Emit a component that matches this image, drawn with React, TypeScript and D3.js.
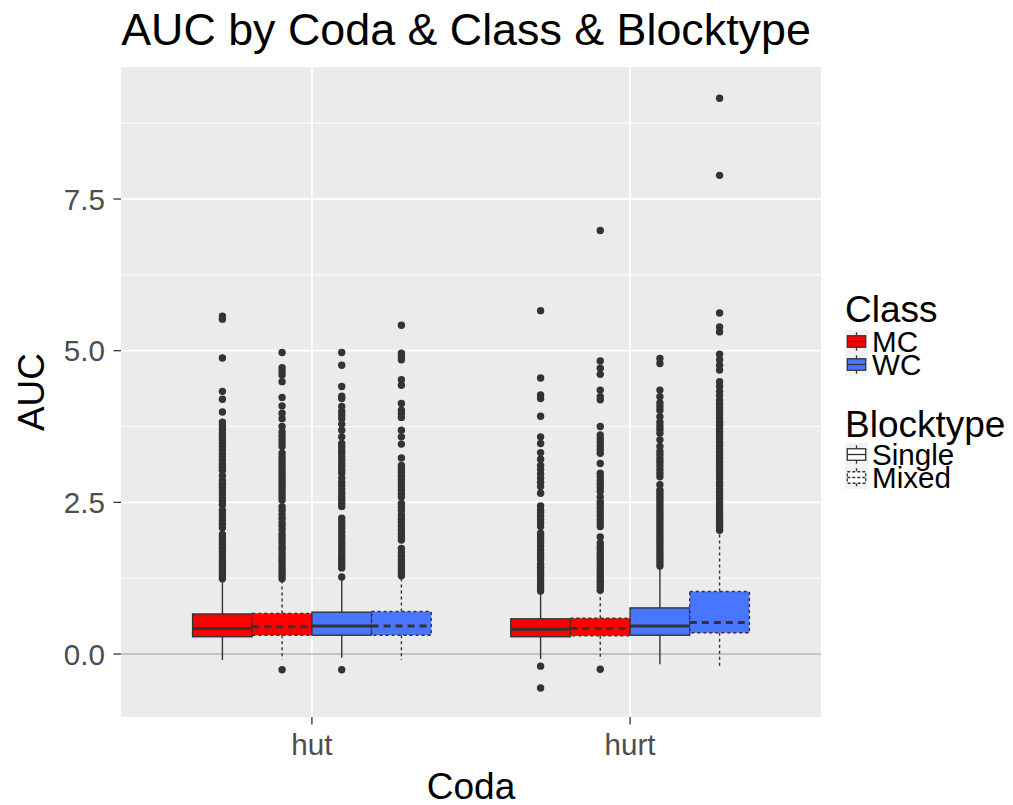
import React from 'react';
import * as d3 from 'd3';

const codas = ['hut', 'hurt'];
const classes = ['MC', 'WC'];
const blocktypes = ['Single', 'Mixed'];
const yTicks = [0, 2.5, 5, 7.5];
const yTickLabels = ['0.0', '2.5', '5.0', '7.5'];
const yMinor = [1.25, 3.75, 6.25, 8.75];

// [lower whisker, q1, median, q3, upper whisker]
const hutMCSingleStats = [-0.1, 0.285, 0.42, 0.66, 1.2];
const hutMCMixedStats = [-0.09, 0.31, 0.45, 0.67, 1.19];
const hutWCSingleStats = [-0.06, 0.31, 0.46, 0.69, 1.22];
const hutWCMixedStats = [-0.1, 0.31, 0.46, 0.7, 1.25];
const hurtMCSingleStats = [-0.08, 0.285, 0.41, 0.58, 1.0];
const hurtMCMixedStats = [-0.1, 0.3, 0.42, 0.59, 1.0];
const hurtWCSingleStats = [-0.17, 0.31, 0.46, 0.76, 1.4];
const hurtWCMixedStats = [-0.22, 0.35, 0.52, 1.03, 2.0];

const hutMCSingleOut = [1.24, 1.29, 1.34, 1.39, 1.44, 1.49, 1.54, 1.6, 1.65, 1.7, 1.75, 1.81, 1.86, 1.92, 1.97, 2.08, 2.14, 2.2, 2.26, 2.31, 2.37, 2.46, 2.52, 2.57, 2.63, 2.69, 2.75, 2.8, 2.86, 2.94, 3.03, 3.08, 3.13, 3.19, 3.25, 3.3, 3.36, 3.42, 3.47, 3.53, 3.58, 3.64, 3.7, 3.76, 3.82, 3.99, 4.2, 4.33, 4.88, 5.52, 5.57];
const hutMCMixedOut = [-0.26, 1.24, 1.29, 1.34, 1.39, 1.44, 1.5, 1.55, 1.6, 1.65, 1.71, 1.76, 1.82, 1.87, 1.93, 1.98, 2.05, 2.11, 2.17, 2.24, 2.3, 2.37, 2.43, 2.54, 2.59, 2.64, 2.69, 2.74, 2.79, 2.84, 2.89, 2.94, 2.99, 3.04, 3.09, 3.14, 3.2, 3.25, 3.31, 3.42, 3.48, 3.54, 3.6, 3.66, 3.75, 3.88, 3.97, 4.09, 4.23, 4.49, 4.6, 4.66, 4.72, 4.97];
const hutWCSingleOut = [-0.26, 1.27, 1.42, 1.47, 1.52, 1.57, 1.62, 1.68, 1.73, 1.79, 1.84, 1.9, 1.95, 2.01, 2.07, 2.12, 2.18, 2.24, 2.43, 2.48, 2.54, 2.59, 2.65, 2.71, 2.77, 2.83, 2.9, 2.98, 3.03, 3.09, 3.14, 3.2, 3.25, 3.31, 3.36, 3.42, 3.47, 3.58, 3.69, 3.79, 3.88, 3.94, 4.0, 4.08, 4.21, 4.25, 4.41, 4.76, 4.97];
const hutWCMixedOut = [1.29, 1.34, 1.39, 1.44, 1.5, 1.55, 1.61, 1.67, 1.74, 1.88, 1.93, 1.99, 2.05, 2.11, 2.17, 2.23, 2.29, 2.36, 2.42, 2.48, 2.59, 2.64, 2.7, 2.76, 2.82, 2.88, 2.94, 3.0, 3.05, 3.11, 3.23, 3.46, 3.58, 3.69, 3.9, 3.96, 4.02, 4.13, 4.43, 4.52, 4.85, 4.9, 4.96, 5.42];
const hurtMCSingleOut = [-0.56, -0.2, 1.04, 1.09, 1.14, 1.19, 1.24, 1.29, 1.33, 1.38, 1.43, 1.48, 1.55, 1.6, 1.66, 1.72, 1.78, 1.84, 1.9, 1.95, 1.99, 2.1, 2.16, 2.22, 2.28, 2.33, 2.37, 2.44, 2.65, 2.76, 2.83, 2.9, 2.97, 3.04, 3.11, 3.21, 3.32, 3.47, 3.58, 3.92, 4.21, 4.27, 4.55, 5.66];
const hurtMCMixedOut = [-0.25, 1.05, 1.1, 1.15, 1.2, 1.25, 1.3, 1.35, 1.4, 1.45, 1.5, 1.56, 1.61, 1.66, 1.72, 1.77, 1.83, 1.93, 2.1, 2.16, 2.22, 2.28, 2.34, 2.4, 2.46, 2.51, 2.59, 2.68, 2.74, 2.8, 2.86, 2.92, 2.98, 3.14, 3.31, 3.37, 3.43, 3.49, 3.55, 3.61, 3.75, 4.19, 4.24, 4.35, 4.61, 4.71, 4.83, 6.98];
const hurtWCSingleOut = [1.45, 1.5, 1.55, 1.6, 1.65, 1.7, 1.75, 1.8, 1.85, 1.9, 1.95, 2.0, 2.05, 2.1, 2.15, 2.2, 2.25, 2.3, 2.35, 2.4, 2.45, 2.5, 2.55, 2.6, 2.65, 2.7, 2.79, 2.92, 2.98, 3.04, 3.1, 3.16, 3.22, 3.28, 3.34, 3.42, 3.53, 3.64, 3.7, 3.76, 3.82, 3.91, 4.02, 4.08, 4.14, 4.24, 4.35, 4.79, 4.87];
const hurtWCMixedOut = [2.04, 2.09, 2.14, 2.19, 2.24, 2.29, 2.34, 2.4, 2.45, 2.5, 2.56, 2.61, 2.67, 2.72, 2.78, 2.83, 2.89, 2.94, 3.0, 3.05, 3.11, 3.16, 3.22, 3.27, 3.33, 3.38, 3.44, 3.49, 3.55, 3.6, 3.66, 3.71, 3.77, 3.82, 3.88, 3.94, 4.0, 4.06, 4.12, 4.18, 4.26, 4.33, 4.41, 4.49, 4.68, 4.76, 4.85, 4.94, 5.31, 5.39, 5.62, 7.89, 9.16];

const classColors = ['#FF0000', '#4876FF'];

const groups = [
  { coda: 'hut', cls: 'MC', block: 'Single', stats: hutMCSingleStats, out: hutMCSingleOut },
  { coda: 'hut', cls: 'MC', block: 'Mixed', stats: hutMCMixedStats, out: hutMCMixedOut },
  { coda: 'hut', cls: 'WC', block: 'Single', stats: hutWCSingleStats, out: hutWCSingleOut },
  { coda: 'hut', cls: 'WC', block: 'Mixed', stats: hutWCMixedStats, out: hutWCMixedOut },
  { coda: 'hurt', cls: 'MC', block: 'Single', stats: hurtMCSingleStats, out: hurtMCSingleOut },
  { coda: 'hurt', cls: 'MC', block: 'Mixed', stats: hurtMCMixedStats, out: hurtMCMixedOut },
  { coda: 'hurt', cls: 'WC', block: 'Single', stats: hurtWCSingleStats, out: hurtWCSingleOut },
  { coda: 'hurt', cls: 'WC', block: 'Mixed', stats: hurtWCMixedStats, out: hurtWCMixedOut },
];

const W = 1013, H = 805;
const PL = 121, PR = 821, PT = 67, PB = 717;
const FONT = '"Liberation Sans", Arial, Helvetica, sans-serif';
const DARK = '#333333';

export default function App() {
  const x = d3.scaleLinear().domain([0.4, 2.6]).range([PL, PR]);
  const y = d3.scaleLinear().domain([-1.038, 9.676]).range([PB, PT]);
  const sub = d3.scaleBand<string>()
    .domain(['MC-Single', 'MC-Mixed', 'WC-Single', 'WC-Mixed'])
    .range([-0.375, 0.375]);
  const color = d3.scaleOrdinal<string, string>().domain(classes).range(classColors);
  const bw = x(sub.bandwidth()) - x(0);

  const boxes = groups.map((g, i) => {
    const ci = codas.indexOf(g.coda) + 1;
    const x0 = x(ci + (sub(`${g.cls}-${g.block}`) as number));
    const xc = x0 + bw / 2;
    const [lw, q1, med, q3, uw] = g.stats;
    const mixed = g.block === 'Mixed';
    const dash = mixed ? '3,3' : undefined;
    return (
      <g key={i}>
        <line x1={xc} x2={xc} y1={y(q3)} y2={y(uw)} stroke={DARK} strokeWidth={1.4} strokeDasharray={dash} />
        <line x1={xc} x2={xc} y1={y(q1)} y2={y(lw)} stroke={DARK} strokeWidth={1.4} strokeDasharray={dash} />
        <rect x={x0} y={y(q3)} width={bw} height={y(q1) - y(q3)} fill={color(g.cls)} stroke={DARK} strokeWidth={1.4} strokeDasharray={dash} />
        <line x1={x0} x2={x0 + bw} y1={y(med)} y2={y(med)} stroke={DARK} strokeWidth={3} strokeDasharray={mixed ? '7,5' : undefined} />
        {g.out.map((v, j) => (
          <circle key={j} cx={xc} cy={y(v)} r={3.7} fill={DARK} />
        ))}
      </g>
    );
  });

  const keySize = 23;
  const legendX = 845;
  const classKeyY = [330, 353];
  const blockKeyY = [443, 466];

  const keyGlyph = (kx: number, ky: number, fill: string, dashed: boolean, k: string) => {
    const s = keySize;
    const dash = dashed ? '3,2' : undefined;
    return (
      <g key={k}>
        <rect x={kx} y={ky} width={s} height={s} fill="#F2F2F2" />
        <line x1={kx + s / 2} x2={kx + s / 2} y1={ky + s * 0.1} y2={ky + s * 0.9} stroke={DARK} strokeWidth={1.3} strokeDasharray={dash} />
        <rect x={kx + s * 0.1} y={ky + s * 0.25} width={s * 0.8} height={s * 0.5} fill={fill} stroke={DARK} strokeWidth={1.3} strokeDasharray={dash} />
        <line x1={kx + s * 0.1} x2={kx + s * 0.9} y1={ky + s / 2} y2={ky + s / 2} stroke={DARK} strokeWidth={1.3} strokeDasharray={dash} />
      </g>
    );
  };

  return (
    <svg width={W} height={H} style={{ position: 'absolute', left: 0, top: 0, display: 'block' }} fontFamily={FONT}>
      <rect x={0} y={0} width={W} height={H} fill="#FFFFFF" />
      <text x={466} y={45} fontSize={44.8} textAnchor="middle" fill="#000">AUC by Coda &amp; Class &amp; Blocktype</text>

      <rect x={PL} y={PT} width={PR - PL} height={PB - PT} fill="#EBEBEB" />
      {yMinor.map((v) => (
        <line key={'mn' + v} x1={PL} x2={PR} y1={y(v)} y2={y(v)} stroke="#FFFFFF" strokeWidth={0.9} />
      ))}
      {yTicks.map((v) => (
        <line key={'mj' + v} x1={PL} x2={PR} y1={y(v)} y2={y(v)} stroke="#FFFFFF" strokeWidth={1.8} />
      ))}
      {codas.map((c, i) => (
        <line key={'vx' + c} x1={x(i + 1)} x2={x(i + 1)} y1={PT} y2={PB} stroke="#FFFFFF" strokeWidth={1.8} />
      ))}
      <line x1={PL} x2={PR} y1={y(0)} y2={y(0)} stroke="#B0B0B0" strokeWidth={1.4} />

      {boxes}

      {yTicks.map((v, i) => (
        <g key={'yt' + v}>
          <line x1={PL - 7.5} x2={PL} y1={y(v)} y2={y(v)} stroke={DARK} strokeWidth={1.3} />
          <text x={PL - 16} y={y(v) + 10.5} fontSize={29.6} textAnchor="end" fill="#4D4D4D">{yTickLabels[i]}</text>
        </g>
      ))}
      {codas.map((c, i) => (
        <g key={'xt' + c}>
          <line x1={x(i + 1)} x2={x(i + 1)} y1={PB} y2={PB + 7.5} stroke={DARK} strokeWidth={1.3} />
          <text x={x(i + 1)} y={755} fontSize={29.6} textAnchor="middle" fill="#4D4D4D">{c}</text>
        </g>
      ))}
      <text x={(PL + PR) / 2} y={799} fontSize={37} textAnchor="middle" fill="#000">Coda</text>
      <text transform={`translate(44,${(PT + PB) / 2}) rotate(-90)`} fontSize={37} textAnchor="middle" fill="#000">AUC</text>

      <text x={legendX} y={322} fontSize={37} fill="#000">Class</text>
      {classes.map((c, i) => (
        <g key={'lc' + c}>
          {keyGlyph(legendX, classKeyY[i], color(c), false, 'kc' + c)}
          <text x={legendX + keySize + 4} y={classKeyY[i] + keySize / 2 + 10.5} fontSize={29.6} fill="#000">{c}</text>
        </g>
      ))}
      <text x={legendX} y={437} fontSize={37} fill="#000">Blocktype</text>
      {blocktypes.map((b, i) => (
        <g key={'lb' + b}>
          {keyGlyph(legendX, blockKeyY[i], '#FFFFFF', b === 'Mixed', 'kb' + b)}
          <text x={legendX + keySize + 4} y={blockKeyY[i] + keySize / 2 + 10.5} fontSize={29.6} fill="#000">{b}</text>
        </g>
      ))}
    </svg>
  );
}
